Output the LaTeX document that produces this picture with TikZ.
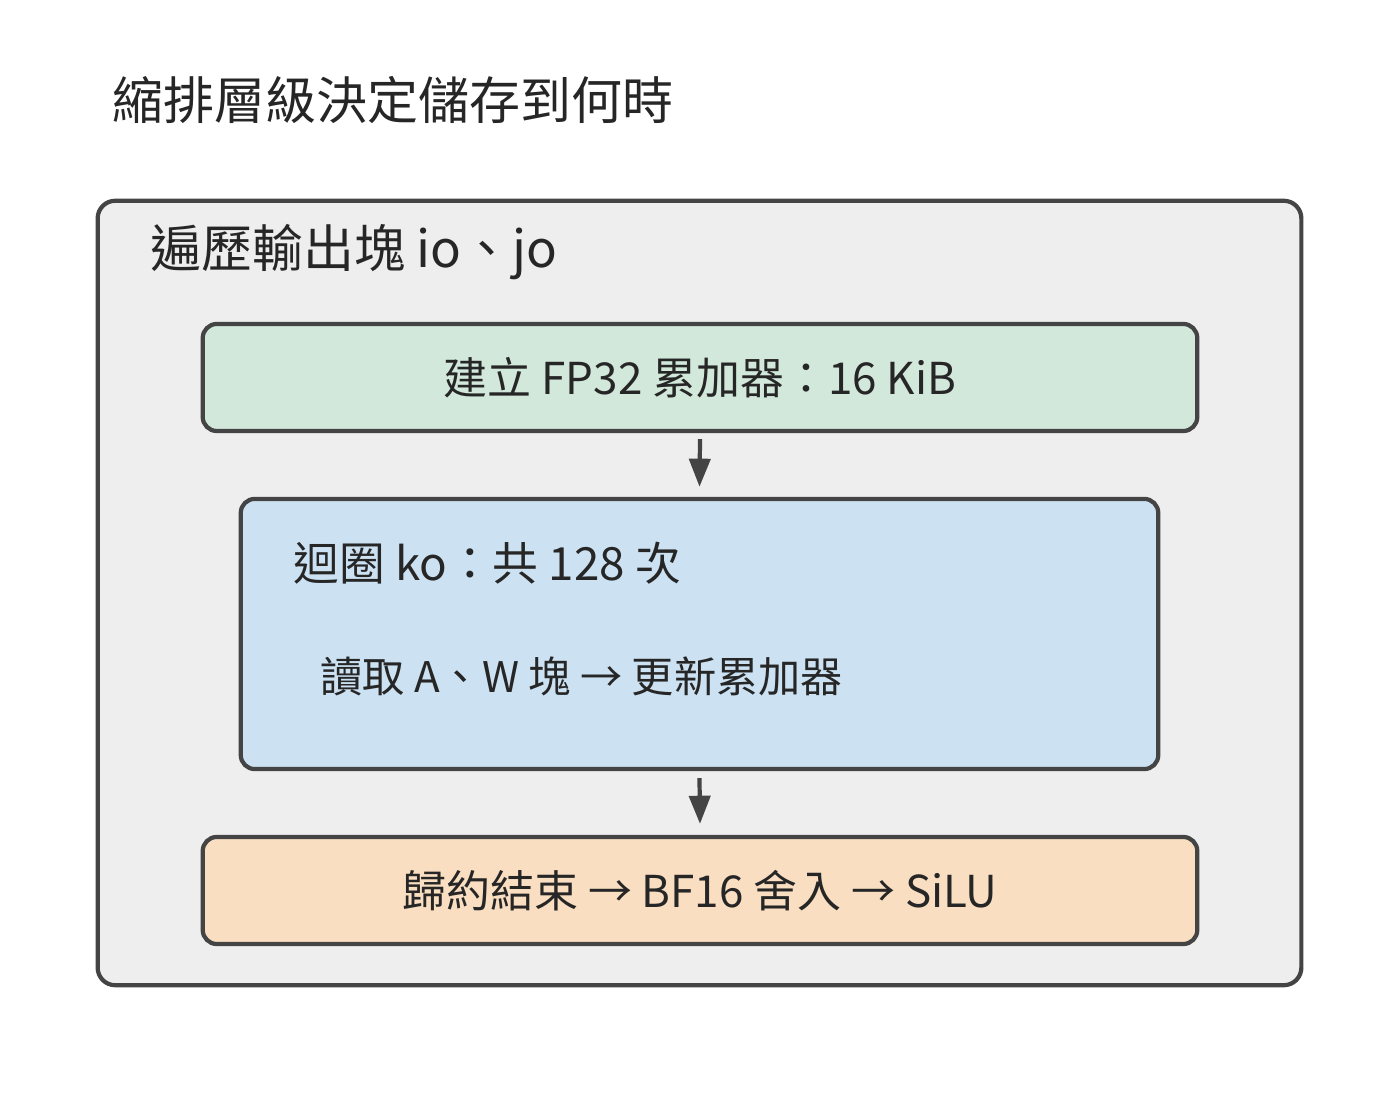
\documentclass[tikz,border=0pt]{standalone}
\usepackage{fontspec}
\setmainfont{Noto Sans CJK TC}
\usetikzlibrary{arrows.meta}
\usetikzlibrary{positioning}
\definecolor{edge}{HTML}{444444}
\definecolor{outerbg}{HTML}{EEEEEE}
\definecolor{initbg}{HTML}{D1E8DB}
\definecolor{loopbg}{HTML}{CCE2F2}
\definecolor{finbg}{HTML}{F9DEC1}
\tikzset{
    stepbox/.style = {draw=edge, line width=1.2pt, rounded corners=4pt,
        minimum width=9.94cm, minimum height=1.07cm, inner sep=0pt,
        font=\fontsize{12.5}{14}\selectfont, text=black!85},
    flow/.style = {-{Triangle[width=6pt,length=8pt]}, draw=edge, line width=1.2pt},
}
\begin{document}
\begin{tikzpicture}[x=0.01cm, y=-0.01cm]
\useasboundingbox (0,0) rectangle (1400,1104);
% heading
\node[anchor=west, font=\fontsize{14.5}{16}\selectfont, text=black!85] (title) at (100,100) {縮排層級決定儲存到何時};
% outer loop
\node[draw=edge, fill=outerbg, line width=1.2pt, rounded corners=5pt, minimum width=12.03cm,
    minimum height=7.84cm, inner sep=0pt] (outer) at (699.5,593) {};
\node[anchor=west, font=\fontsize{14.5}{16}\selectfont, text=black!85] (outerlbl) at (138,252) {遍歷輸出塊 io、jo};
% steps
\node[stepbox, fill=initbg] (init) at (700,377.5) {建立 FP32 累加器：16 KiB};
\node[stepbox, fill=loopbg, minimum width=9.17cm, minimum height=2.70cm] (loop) at (699.5,634) {};
\node[anchor=west, font=\fontsize{13}{15}\selectfont, text=black!85] (looplbl) at (281,563) {迴圈 ko：共 128 次};
\node[anchor=west, font=\fontsize{12}{14}\selectfont, text=black!85] (body) at (308,676) {讀取 A、W 塊 → 更新累加器};
\node[stepbox, fill=finbg] (fin) at (700,890.5) {歸約結束 → BF16 舍入 → SiLU};
% connectors
\draw[flow] ([yshift=-0.06cm]init.south) -- ([yshift=0.1cm]loop.north);
\draw[flow] ([yshift=-0.07cm]loop.south) -- ([yshift=0.11cm]fin.north);
\end{tikzpicture}
\end{document}
